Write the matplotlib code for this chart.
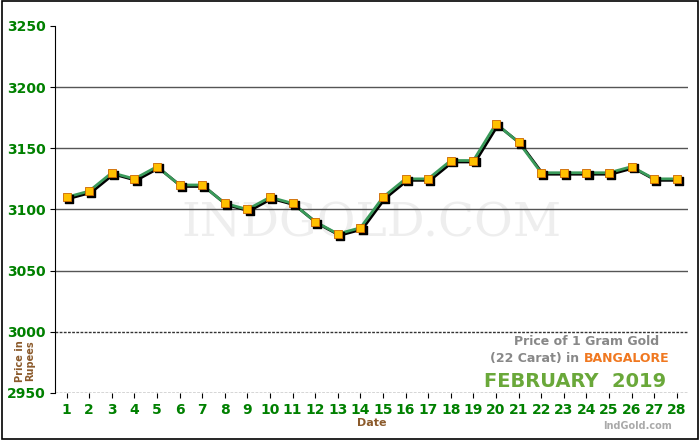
import matplotlib.pyplot as plt
from matplotlib.patches import Rectangle

# Gold price data, Bangalore, Feb 2019
dates = list(range(1, 29))
prices = [3110, 3115, 3130, 3125, 3135, 3120, 3120, 3105, 3100, 3110,
          3105, 3090, 3080, 3085, 3110, 3125, 3125, 3140, 3140, 3170,
          3155, 3130, 3130, 3130, 3130, 3135, 3125, 3125]
yticks = [2950, 3000, 3050, 3100, 3150, 3200, 3250]

fig = plt.figure(figsize=(7, 4.4), dpi=100)
fig.patches.append(Rectangle((0.003, 0.003), 0.994, 0.994, transform=fig.transFigure,
                             fill=False, edgecolor='black', linewidth=1.2))
ax = fig.add_axes([0.079, 0.107, 0.904, 0.834])

for y in yticks[2:-1]:
    ax.axhline(y, color='#555555', linewidth=1, zorder=1)
ax.axhline(3000, color='#333333', linewidth=1, linestyle=(0, (2, 1)), zorder=1)
ax.axhline(2950, color='#333333', linewidth=1, linestyle=(0, (2, 1)), zorder=1)

ax.text(14.5, 3088, 'INDGOLD.COM', ha='center', va='center', fontsize=34,
        family='serif', color='#eeeeee', zorder=0)

# shadow then line
ax.plot([d + 0.08 for d in dates], [p - 1.2 for p in prices], color='black',
        linewidth=2, zorder=2)
ax.plot(dates, prices, color='#3a9a5a', linewidth=2, zorder=3)
ax.scatter([d + 0.1 for d in dates], [p - 1.5 for p in prices], s=30, marker='s',
           color='black', zorder=4)
ax.scatter(dates, prices, s=30, marker='s', color='#ffc000', edgecolors='#cc6600',
           linewidths=0.6, zorder=5)

ax.set_xlim(0.5, 28.5)
ax.set_ylim(2950, 3250)
ax.set_xticks(dates)
ax.set_yticks(yticks)
ax.tick_params(axis='both', colors='black', labelcolor='#008000', labelsize=10)
for lab in ax.get_xticklabels() + ax.get_yticklabels():
    lab.set_fontweight('bold')
for s in ['top', 'right']:
    ax.spines[s].set_visible(False)
ax.spines['bottom'].set_visible(False)

ax.set_xlabel('Date', color='#8b5a2b', fontsize=8, fontweight='bold', labelpad=1)
fig.text(0.036, 0.18, 'Price in\nRupees', rotation=90, ha='center', va='center',
         color='#8b5a2b', fontsize=7, fontweight='bold', linespacing=1.0)

ax.text(0.955, 0.13, 'Price of 1 Gram Gold', transform=ax.transAxes, ha='right',
        color='#888888', fontsize=9, fontweight='bold')
bang = ax.text(0.97, 0.085, 'BANGALORE', transform=ax.transAxes, ha='right',
               color='#f07820', fontsize=9, fontweight='bold')
ax.annotate('(22 Carat) in ', xy=(0, 0), xycoords=bang, ha='right', va='bottom',
            color='#888888', fontsize=9, fontweight='bold')
ax.text(0.965, 0.015, 'FEBRUARY  2019', transform=ax.transAxes, ha='right',
        color='#6aa83a', fontsize=14, fontweight='bold')
fig.text(0.96, 0.025, 'IndGold.com', ha='right', color='#aaaaaa', fontsize=7,
         fontweight='bold')

fig.savefig('out.png', dpi=100)
